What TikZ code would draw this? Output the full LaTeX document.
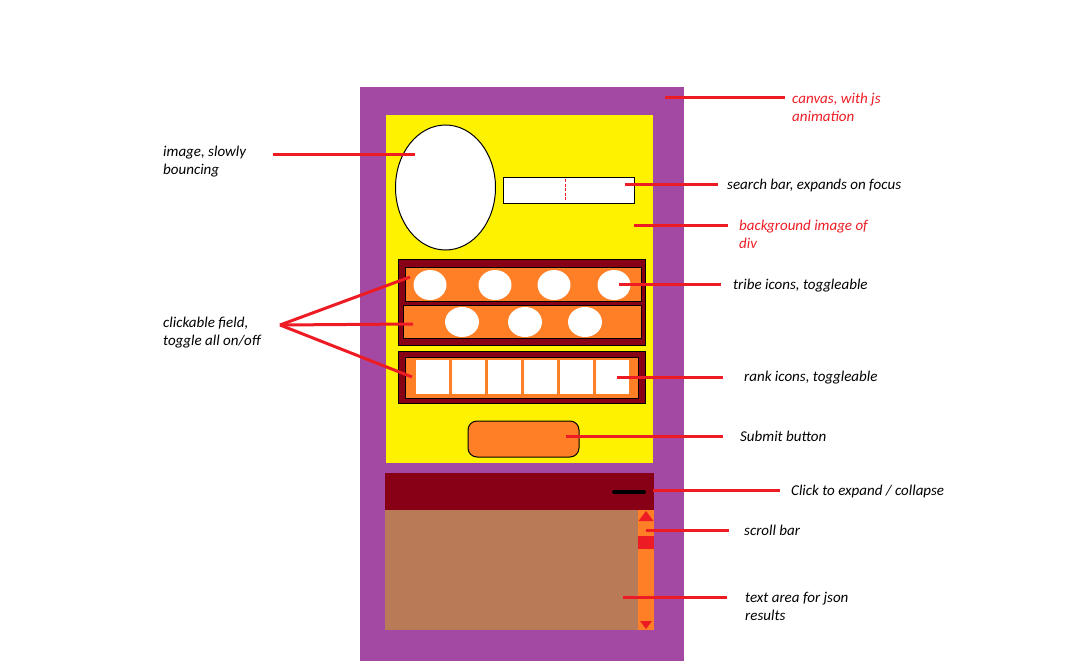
\documentclass[tikz,border=0pt]{standalone}
\usepackage{fontspec}
\setmainfont{Carlito}
\usepackage{xcolor}
\usetikzlibrary{shapes.geometric, positioning}

\definecolor{canvasPurple}{HTML}{A349A4}
\definecolor{divYellow}{HTML}{FFF200}
\definecolor{panelRed}{HTML}{880015}
\definecolor{iconOrange}{HTML}{FF7F27}
\definecolor{textBrown}{HTML}{B97A57}
\definecolor{leadRed}{HTML}{ED1C24}

\begin{document}
\begin{tikzpicture}[
    x=1pt, y=-1pt,
    panel/.style={inner sep=0, outer sep=0, line width=1pt},
    framed/.style={panel, draw=black},
    icon/.style={panel, fill=white, minimum width=33, minimum height=34},
    note/.style={font=\itshape\fontsize{15}{18}\selectfont, align=left, inner sep=0, anchor=base west},
    hot/.style={note, text=leadRed},
    lead/.style={draw=leadRed, line width=3pt}
]
\useasboundingbox (0,0) rectangle (1069,661);

% Canvas and div
\node[panel, fill=canvasPurple, minimum width=324, minimum height=574] (canvas) at (522,374) {};
\node[panel, fill=divYellow, minimum width=267, minimum height=348] (div) at (519.5,289) {};

% Bouncing image and search bar
\node[framed, ellipse, fill=white, minimum width=100, minimum height=125] (image) at (445.5,187.5) {};
\node[framed, fill=white, minimum width=131, minimum height=26] (search) at (568.5,190) {};
\draw[leadRed, dash pattern=on 3pt off 1.5pt, line width=1.2pt] (search.north) ++(-3,2) -- ++(0,22);

% Tribe icons
\node[framed, fill=panelRed, minimum width=247, minimum height=86] (tribes) at (521.5,302) {};
\node[framed, fill=iconOrange, minimum width=236, minimum height=34] (row1) at (523,284) {};
\node[framed, fill=iconOrange, minimum width=238, minimum height=33] (row2) at (522,321.5) {};
\foreach \x [count=\i] in {430,495,554,614}
    \node[panel, ellipse, fill=white, minimum width=33, minimum height=30] (tribe\i) at (\x,285) {};
\foreach \x [count=\i] in {462,525,585}
    \node[panel, ellipse, fill=white, minimum width=34, minimum height=30] (tribeb\i) at (\x,322) {};

% Rank icons
\node[framed, fill=panelRed, minimum width=247, minimum height=52] (ranks) at (521.5,377) {};
\node[framed, fill=iconOrange, minimum width=233, minimum height=41] (rankrow) at (521.5,377.5) {};
\foreach \i in {0,...,5}
    \node[icon] (rank\i) at (432.5+36*\i,377) {};

% Submit button
\node[framed, fill=iconOrange, rounded corners=9pt, minimum width=111, minimum height=36] (submit) at (523.5,439) {};

% Results panel
\node[panel, fill=panelRed, minimum width=269, minimum height=37] (toggle) at (519.5,491.5) {};
\draw[line width=4pt, line cap=round] (614,492) -- (644,492);
\node[panel, fill=textBrown, minimum width=253, minimum height=120] (results) at (511.5,570) {};
\node[panel, fill=iconOrange, minimum width=16, minimum height=120] (scroll) at (646,570) {};
\fill[leadRed] (638,536) rectangle (654,549);
\fill[leadRed] (646,511) -- (653.5,521) -- (638.5,521) -- cycle;
\fill[leadRed] (640,621) -- (652,621) -- (646,629) -- cycle;

% Labels
\node[hot] (canvaslbl) at (792,121.5) {canvas, with js\\animation};
\node[note] (imagelbl) at (163,174.5) {image, slowly\\bouncing};
\node[note] (searchlbl) at (727,189.5) {search bar, expands on focus};
\node[hot] (divlbl) at (739,248.5) {background image of\\div};
\node[note] (tribelbl) at (733,289.5) {tribe icons, toggleable};
\node[note] (clicklbl) at (163,345.5) {clickable field,\\toggle all on/off};
\node[note] (ranklbl) at (744,381.5) {rank icons, toggleable};
\node[note] (submitlbl) at (740,441.5) {Submit button};
\node[note] (togglelbl) at (791,495.5) {Click to expand / collapse};
\node[note] (scrolllbl) at (744,535.5) {scroll bar};
\node[note] (resultslbl) at (745,620.5) {text area for json\\results};

% Leader lines
\coordinate (canvas-pin) at (665,98);   \coordinate (canvas-end) at (785,98);
\coordinate (image-pin) at (415,154);   \coordinate (image-end) at (273,154);
\coordinate (search-pin) at (625,184);  \coordinate (search-end) at (718,184);
\coordinate (div-pin) at (634,225);     \coordinate (div-end) at (728,225);
\coordinate (tribe-pin) at (619,284);   \coordinate (tribe-end) at (721,284);
\coordinate (rank-pin) at (617,377);    \coordinate (rank-end) at (723,377);
\coordinate (submit-pin) at (566,436);  \coordinate (submit-end) at (723,436);
\coordinate (toggle-pin) at (653,490);  \coordinate (toggle-end) at (780,490);
\coordinate (scroll-pin) at (646,530);  \coordinate (scroll-end) at (729,530);
\coordinate (results-pin) at (623,597); \coordinate (results-end) at (727,597);
\coordinate (click-end) at (280,325);
\coordinate (click-tribes) at (410,277);
\coordinate (click-row2) at (413,324);
\coordinate (click-ranks) at (412,377);

\draw[lead] (canvas-pin) -- (canvas-end);
\draw[lead] (image-pin) -- (image-end);
\draw[lead] (search-pin) -- (search-end);
\draw[lead] (div-pin) -- (div-end);
\draw[lead] (tribe-pin) -- (tribe-end);
\draw[lead] (rank-pin) -- (rank-end);
\draw[lead] (submit-pin) -- (submit-end);
\draw[lead] (toggle-pin) -- (toggle-end);
\draw[lead] (scroll-pin) -- (scroll-end);
\draw[lead] (results-pin) -- (results-end);
\draw[lead] (click-end) -- (click-tribes);
\draw[lead] (click-end) -- (click-row2);
\draw[lead] (click-end) -- (click-ranks);
\end{tikzpicture}
\end{document}
